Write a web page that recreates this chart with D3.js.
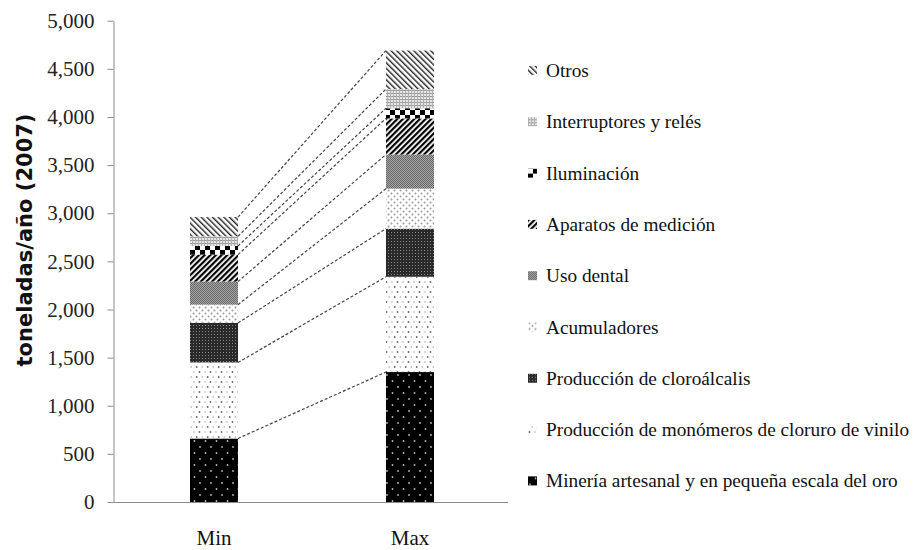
<!DOCTYPE html>
<html>
<head>
<meta charset="utf-8">
<script src="https://cdn.jsdelivr.net/npm/d3@7"></script>
<style>
  body { margin: 0; background: #fff; }
  .tick text { font-family: "Liberation Serif", "Times New Roman", serif; font-size: 21px; fill: #222; }
  .axis path, .axis line { stroke: #8c8c8c; }
  .legend text { font-family: "Liberation Serif", "Times New Roman", serif; font-size: 19.3px; fill: #111; }
  .cat-label { font-family: "Liberation Serif", "Times New Roman", serif; font-size: 21px; fill: #111; }
  .y-title { font-family: "DejaVu Sans", Verdana, sans-serif; font-weight: bold; font-size: 21px; fill: #111; }
</style>
</head>
<body>
<div class="chart"></div>
<script>
// chart values (toneladas/año, 2007)
var categories = ["Min", "Max"];
var sources = [
  "Minería artesanal y en pequeña escala del oro",
  "Producción de monómeros de cloruro de vinilo",
  "Producción de cloroálcalis",
  "Acumuladores",
  "Uso dental",
  "Aparatos de medición",
  "Iluminación",
  "Interruptores y relés",
  "Otros"
];
var minValues = [660, 790, 410, 190, 240, 280, 90, 100, 200];
var maxValues = [1350, 990, 500, 415, 355, 375, 105, 200, 400];
var yTicks = [0, 500, 1000, 1500, 2000, 2500, 3000, 3500, 4000, 4500, 5000];

var svgWidth = 916;
var svgHeight = 550;

var svg = d3.select(".chart")
  .append("svg")
  .attr("width", svgWidth)
  .attr("height", svgHeight);

// fill patterns, one per source
var defs = svg.append("defs");
var patternIds = ["pMin", "pVcm", "pClo", "pAcu", "pDen", "pApa", "pIlu", "pInt", "pOtr"];

function addPattern(id, w, h, transform) {
  var p = defs.append("pattern")
    .attr("id", id)
    .attr("patternUnits", "userSpaceOnUse")
    .attr("width", w)
    .attr("height", h);
  if (transform) p.attr("patternTransform", transform);
  return p;
}

// minería: black with small light dots
var p = addPattern("pMin", 11, 12);
p.append("rect").attr("width", 11).attr("height", 12).attr("fill", "#000");
p.append("circle").attr("cx", 2).attr("cy", 3).attr("r", 0.9).attr("fill", "#bbb");
p.append("circle").attr("cx", 7.5).attr("cy", 9).attr("r", 0.9).attr("fill", "#bbb");

// monómeros: white with sparse dots
p = addPattern("pVcm", 11, 10);
p.append("rect").attr("width", 11).attr("height", 10).attr("fill", "#fff");
p.append("circle").attr("cx", 1.5).attr("cy", 2).attr("r", 0.9).attr("fill", "#666");
p.append("circle").attr("cx", 7).attr("cy", 2).attr("r", 0.7).attr("fill", "#999");
p.append("circle").attr("cx", 4.2).attr("cy", 7).attr("r", 0.7).attr("fill", "#999");
p.append("circle").attr("cx", 9.7).attr("cy", 7).attr("r", 0.9).attr("fill", "#666");

// cloroálcalis: dark mesh
p = addPattern("pClo", 3, 3);
p.append("rect").attr("width", 3).attr("height", 3).attr("fill", "#2a2a2a");
p.append("rect").attr("x", 1).attr("y", 1).attr("width", 1).attr("height", 1).attr("fill", "#8a8a8a");

// acumuladores: white with gray dots
p = addPattern("pAcu", 6, 6);
p.append("rect").attr("width", 6).attr("height", 6).attr("fill", "#fff");
p.append("circle").attr("cx", 1.5).attr("cy", 1.5).attr("r", 1).attr("fill", "#999");
p.append("circle").attr("cx", 4.5).attr("cy", 4.5).attr("r", 1).attr("fill", "#999");

// uso dental: mid gray fine checker
p = addPattern("pDen", 2, 2);
p.append("rect").attr("width", 2).attr("height", 2).attr("fill", "#a8a8a8");
p.append("rect").attr("width", 1).attr("height", 1).attr("fill", "#666");
p.append("rect").attr("x", 1).attr("y", 1).attr("width", 1).attr("height", 1).attr("fill", "#666");

// aparatos de medición: wide "/" stripes
p = addPattern("pApa", 4, 4, "rotate(45)");
p.append("rect").attr("width", 4).attr("height", 4).attr("fill", "#fff");
p.append("rect").attr("width", 2.2).attr("height", 4).attr("fill", "#000");

// iluminación: large checker
p = addPattern("pIlu", 10, 10);
p.append("rect").attr("width", 10).attr("height", 10).attr("fill", "#fff");
p.append("rect").attr("width", 5).attr("height", 5).attr("fill", "#000");
p.append("rect").attr("x", 5).attr("y", 5).attr("width", 5).attr("height", 5).attr("fill", "#000");

// interruptores y relés: light gray small grid
p = addPattern("pInt", 3, 3);
p.append("rect").attr("width", 3).attr("height", 3).attr("fill", "#e6e6e6");
p.append("rect").attr("width", 3).attr("height", 1).attr("fill", "#9a9a9a");
p.append("rect").attr("width", 1).attr("height", 3).attr("fill", "#b0b0b0");

// otros: thin "\" stripes
p = addPattern("pOtr", 4, 4, "rotate(-45)");
p.append("rect").attr("width", 4).attr("height", 4).attr("fill", "#fff");
p.append("rect").attr("width", 1.4).attr("height", 4).attr("fill", "#222");

// scales
var xScale = d3.scaleBand()
  .domain(categories)
  .range([116, 508]);
var barFrac = 0.245;
var barW = xScale.bandwidth() * barFrac;
function barX(c) { return xScale(c) + (xScale.bandwidth() - barW) / 2; }

var yScale = d3.scaleLinear()
  .domain([0, 5000])
  .range([502, 20.7]);

// stacked data
var rows = categories.map(function(c, i) {
  var row = { cat: c };
  var vals = i === 0 ? minValues : maxValues;
  sources.forEach(function(s, j) { row[s] = vals[j]; });
  return row;
});
var stacked = d3.stack().keys(sources)(rows);

// y axis
var leftAxis = d3.axisLeft(yScale)
  .tickValues(yTicks)
  .tickSize(6)
  .tickSizeOuter(0)
  .tickPadding(13)
  .tickFormat(d3.format(","));

svg.append("g")
  .attr("class", "axis")
  .attr("transform", "translate(113.5,0)")
  .call(leftAxis);

// baseline
svg.append("line")
  .attr("class", "axis")
  .attr("x1", 113.5).attr("x2", 508)
  .attr("y1", yScale(0) + 0.5).attr("y2", yScale(0) + 0.5)
  .attr("stroke", "#8c8c8c");

// bars
var layers = svg.append("g").selectAll("g")
  .data(stacked)
  .enter()
  .append("g")
  .attr("fill", function(d, i) { return "url(#" + patternIds[i] + ")"; });

layers.selectAll("rect")
  .data(function(d) { return d; })
  .enter()
  .append("rect")
  .attr("x", function(d) { return barX(d.data.cat); })
  .attr("width", barW)
  .attr("y", function(d) { return yScale(d[1]); })
  .attr("height", function(d) { return yScale(d[0]) - yScale(d[1]); });

// dashed connectors between the tops of each segment
svg.append("g").selectAll("line")
  .data(stacked)
  .enter()
  .append("line")
  .attr("x1", barX("Min") + barW)
  .attr("y1", function(d) { return yScale(d[0][1]); })
  .attr("x2", barX("Max"))
  .attr("y2", function(d) { return yScale(d[1][1]); })
  .attr("stroke", "#444")
  .attr("stroke-width", 1.2)
  .attr("stroke-dasharray", "3,2");

// category labels
svg.append("g").selectAll("text")
  .data(categories)
  .enter()
  .append("text")
  .attr("class", "cat-label")
  .attr("x", function(d) { return xScale(d) + xScale.bandwidth() / 2; })
  .attr("y", 545)
  .attr("text-anchor", "middle")
  .text(function(d) { return d; });

// y axis title
svg.append("text")
  .attr("class", "y-title")
  .attr("transform", "translate(32,240) rotate(-90)")
  .attr("text-anchor", "middle")
  .text("toneladas/año (2007)");

// legend, top item is the last series
var legendItems = sources.map(function(s, i) { return { name: s, pat: patternIds[i] }; }).reverse();

var legend = svg.append("g")
  .attr("class", "legend")
  .selectAll("g")
  .data(legendItems)
  .enter()
  .append("g")
  .attr("transform", function(d, i) { return "translate(528," + (71 + i * 51.3) + ")"; });

legend.append("rect")
  .attr("x", 0)
  .attr("y", -5)
  .attr("width", 9)
  .attr("height", 9)
  .attr("fill", function(d) { return "url(#" + d.pat + ")"; });

legend.append("text")
  .attr("x", 18)
  .attr("y", 6)
  .text(function(d) { return d.name; });
</script>
</body>
</html>
